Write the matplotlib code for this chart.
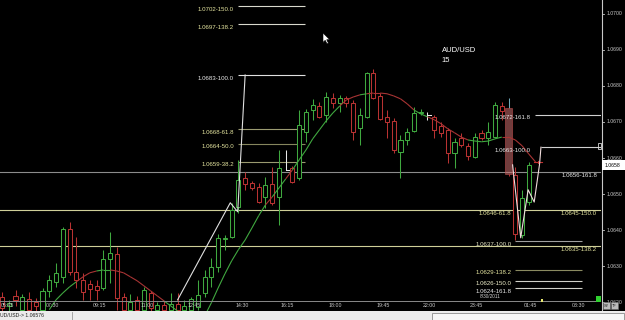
import numpy as np
import matplotlib
matplotlib.use("Agg")
import matplotlib.pyplot as plt
from matplotlib.patches import Rectangle, Polygon
from matplotlib.collections import LineCollection

plt.rcParams['font.family'] = ['Liberation Sans', 'DejaVu Sans']

# ---------------- data ----------------
symbol = "AUD/USD"
period = "15"
status_text = "UD/USD-> 1.06576"
date_text = "8/30/2011"
last_price = 1.0658

opens = [
    1.06215, 1.06190, 1.06218, 1.06179, 1.06210, 1.06201, 1.06179, 1.06232, 1.06257, 1.06271,
    1.06404, 1.06285, 1.06262, 1.06251, 1.06246, 1.06240, 1.06321, 1.06334, 1.06215, 1.06179,
    1.06207, 1.06179, 1.06226, 1.06179, 1.06193, 1.06179, 1.06196, 1.06179, 1.06179, 1.06188,
    1.06226, 1.06271, 1.06298, 1.06375, 1.06381, 1.06465, 1.06545, 1.06531, 1.06520, 1.06492,
    1.06528, 1.06492, 1.06567, 1.06573, 1.06545, 1.06672, 1.06733, 1.06744, 1.06720, 1.06767,
    1.06753, 1.06767, 1.06753, 1.06683, 1.06714, 1.06836, 1.06772, 1.06714, 1.06703, 1.06617,
    1.06650, 1.06675, 1.06726, 1.06720, 1.06714, 1.06689, 1.06678, 1.06614, 1.06656, 1.06634,
    1.06603, 1.06670, 1.06656, 1.06658, 1.06744, 1.06739, 1.06553, 1.06387, 1.06478]
highs = [
    1.06229, 1.06207, 1.06235, 1.06224, 1.06229, 1.06213, 1.06240, 1.06276, 1.06310, 1.06409,
    1.06423, 1.06381, 1.06282, 1.06262, 1.06262, 1.06346, 1.06395, 1.06354, 1.06226, 1.06224,
    1.06218, 1.06243, 1.06232, 1.06201, 1.06204, 1.06226, 1.06226, 1.06207, 1.06215, 1.06262,
    1.06290, 1.06323, 1.06390, 1.06387, 1.06476, 1.06595, 1.06562, 1.06537, 1.06531, 1.06548,
    1.06575, 1.06622, 1.06622, 1.06578, 1.06733, 1.06736, 1.06764, 1.06755, 1.06783, 1.06780,
    1.06775, 1.06772, 1.06761, 1.06739, 1.06839, 1.06847, 1.06780, 1.06733, 1.06711, 1.06664,
    1.06683, 1.06742, 1.06736, 1.06728, 1.06720, 1.06700, 1.06683, 1.06656, 1.06670, 1.06642,
    1.06670, 1.06678, 1.06700, 1.06755, 1.06755, 1.06767, 1.06575, 1.06512, 1.06589]
lows = [
    1.06170, 1.06170, 1.06190, 1.06170, 1.06170, 1.06170, 1.06170, 1.06215, 1.06243, 1.06254,
    1.06276, 1.06240, 1.06207, 1.06207, 1.06207, 1.06235, 1.06254, 1.06179, 1.06170, 1.06170,
    1.06170, 1.06170, 1.06170, 1.06170, 1.06170, 1.06170, 1.06170, 1.06170, 1.06170, 1.06179,
    1.06215, 1.06243, 1.06285, 1.06346, 1.06379, 1.06448, 1.06512, 1.06512, 1.06476, 1.06462,
    1.06470, 1.06415, 1.06567, 1.06531, 1.06539, 1.06645, 1.06706, 1.06711, 1.06700, 1.06739,
    1.06728, 1.06742, 1.06650, 1.06636, 1.06711, 1.06764, 1.06706, 1.06656, 1.06614, 1.06545,
    1.06636, 1.06672, 1.06720, 1.06706, 1.06656, 1.06658, 1.06587, 1.06573, 1.06631, 1.06595,
    1.06600, 1.06650, 1.06636, 1.06656, 1.06706, 1.06551, 1.06373, 1.06379, 1.06470]
closes = [
    1.06185, 1.06199, 1.06207, 1.06215, 1.06179, 1.06190, 1.06232, 1.06262, 1.06282, 1.06404,
    1.06285, 1.06262, 1.06229, 1.06237, 1.06235, 1.06321, 1.06337, 1.06213, 1.06179, 1.06201,
    1.06179, 1.06235, 1.06185, 1.06193, 1.06179, 1.06196, 1.06179, 1.06190, 1.06210, 1.06221,
    1.06271, 1.06298, 1.06379, 1.06378, 1.06456, 1.06539, 1.06528, 1.06517, 1.06478, 1.06526,
    1.06476, 1.06573, 1.06567, 1.06534, 1.06692, 1.06728, 1.06747, 1.06714, 1.06769, 1.06753,
    1.06767, 1.06753, 1.06672, 1.06720, 1.06836, 1.06767, 1.06708, 1.06700, 1.06622, 1.06650,
    1.06672, 1.06725, 1.06728, 1.06720, 1.06678, 1.06670, 1.06614, 1.06645, 1.06636, 1.06606,
    1.06658, 1.06656, 1.06672, 1.06747, 1.06731, 1.06556, 1.06390, 1.06490, 1.06580]
highlight_bar = 75

nan = np.nan
ma = [
    nan, nan, nan, nan, nan, nan, nan, 1.06180, 1.06207, 1.06226,
    1.06243, 1.06257, 1.06271, 1.06282, 1.06287, 1.06290, 1.06290, 1.06287, 1.06282, 1.06271,
    1.06260, 1.06246, 1.06232, 1.06218, 1.06204, 1.06190, 1.06176, 1.06162, nan, nan,
    1.06162, 1.06199, 1.06240, 1.06279, 1.06315, 1.06346, 1.06373, 1.06406, 1.06440, 1.06470,
    1.06492, 1.06517, 1.06542, 1.06567, 1.06595, 1.06622, 1.06653, 1.06678, 1.06703, 1.06725,
    1.06744, 1.06761, 1.06769, 1.06775, 1.06778, 1.06780, 1.06780, 1.06778, 1.06772, 1.06764,
    1.06750, 1.06733, 1.06722, 1.06714, 1.06706, 1.06695, 1.06681, 1.06670, 1.06658, 1.06650,
    1.06647, 1.06645, 1.06647, 1.06653, 1.06658, 1.06658, 1.06650, 1.06634, 1.06611, 1.06589]

time_labels = ["05:45", "07:30", "09:15", "11:00", "12:45", "14:30", "16:15",
               "18:00", "19:45", "22:00", "23:45", "01:45", "03:30"]
time_label_bars = [0.75, 7.4, 14.5, 21.5, 28.4, 35.5, 42.3, 49.3, 56.4, 63.2, 70.3, 78.3, 85.4]

price_ticks = [1.0620, 1.0630, 1.0640, 1.0650, 1.0660, 1.0670, 1.0680, 1.0690, 1.0700]

# Fibonacci drawing (left)
fibL_levels = [1.0702, 1.0697, 1.0683, 1.0668, 1.0664, 1.0659]
fibL_ratios = ["150.0", "138.2", "100.0", "61.8", "50.0", "38.2"]
fibL_span = (34.9, 44.9)
# full-width levels
full_levels = [1.0656, 1.06455, 1.06355]
full_labels = ["1.0656-161.8", "1.0645-150.0", "1.0635-138.2"]
# Fibonacci drawing (right, lower)
fibR_levels = [1.06455, 1.0637, 1.0629, 1.0626, 1.0624]
fibR_ratios = ["61.8", "100.0", "138.2", "150.0", "161.8"]
fibR_span = (75.96, 85.9)
# Fibonacci drawing (right, upper)
fibU_levels = [1.0672, 1.0663]
fibU_ratios = ["161.8", "100.0"]
fibU_starts = [78.9, 79.8]

zigL_bars = [26.0, 33.8, 34.9, 36.0]
zigL_prices = [1.06207, 1.06476, 1.06451, 1.06830]
zigR_bars = [75.6, 76.8, 77.9, 78.8, 79.6, 79.8, 79.8]
zigR_prices = [1.06581, 1.06379, 1.06512, 1.06478, 1.06584, 1.06630, 1.06630]

# ---------------- figure ----------------
W, H = 625, 320
fig = plt.figure(figsize=(W / 100, H / 100), dpi=100, facecolor="black")

PLOT_RIGHT = 601
PLOT_BOTTOM = 311
y_top = 1.070377
y_bot = 1.061762
x_left = -0.296
x_right = 88.69

ax = fig.add_axes([0, (H - PLOT_BOTTOM) / H, PLOT_RIGHT / W, PLOT_BOTTOM / H])
ax.set_facecolor("black")
ax.set_xlim(x_left, x_right)
ax.set_ylim(y_bot, y_top)
ax.axis("off")

GREEN = "#3fa83f"
RED = "#b83232"
WHITE = "#e8e8e8"
YEL = "#e6e6a0"
lw = 0.75
bw = 0.6

n = len(opens)
for i in range(n):
    o, h, l, c = opens[i], highs[i], lows[i], closes[i]
    if o == c:
        col = WHITE
    elif c > o:
        col = GREEN
    else:
        col = RED
    top, bot = max(o, c), min(o, c)
    wick_top_col = "#70a8b8" if i == highlight_bar else col
    ax.plot([i, i], [top, h], color=wick_top_col, lw=lw, solid_capstyle="butt", zorder=3)
    ax.plot([i, i], [l, bot], color=col, lw=lw, solid_capstyle="butt", zorder=3)
    if o == c:
        ax.plot([i, i + 0.45], [o, o], color=col, lw=lw, zorder=3)
    else:
        if i == highlight_bar:
            ax.add_patch(Rectangle((i - 0.5, bot), 1.0, top - bot, facecolor="#d07070",
                                   alpha=0.55, edgecolor="#c05050", lw=lw, zorder=3))
        else:
            ax.add_patch(Rectangle((i - bw / 2, bot), bw, top - bot, facecolor="black",
                                   edgecolor=col, lw=lw, zorder=3))

# moving average, coloured by close vs average
segs, cols = [], []
for i in range(1, len(ma)):
    if np.isnan(ma[i - 1]) or np.isnan(ma[i]):
        continue
    segs.append([(i - 1, ma[i - 1]), (i, ma[i])])
    ref = closes[i] if i < n else closes[-1] - 1
    cols.append("#40a840" if ref >= ma[i] else "#a83434")
ax.add_collection(LineCollection(segs, colors=cols, linewidths=0.8, zorder=4))
ax.plot([len(ma) - 1.3, len(ma) - 0.1], [ma[-1], ma[-1]], color="#c03030", lw=0.8, zorder=4)
ax.plot([len(ma) - 0.7, len(ma) - 0.7], [ma[-1] - 0.00004, ma[-1] + 0.00004],
        color="#c03030", lw=0.8, zorder=4)

def label(x, y, txt, color, ha="right"):
    ax.annotate(txt, xy=(x, y), xytext=(0, -2.2), textcoords="offset points",
                ha=ha, va="center", fontsize=4.4, color=color, zorder=6)

# left fib
fibL_colors = ["#d8d8cc", "#d8d8cc", "#e0e0e0", "#9c9c72", "#86865e", "#9a9a70"]
fibL_text = [YEL, YEL, WHITE, YEL, YEL, YEL]
for lev, r, lc, tc in zip(fibL_levels, fibL_ratios, fibL_colors, fibL_text):
    ax.hlines(lev, fibL_span[0], fibL_span[1], colors=lc, lw=0.8, zorder=2)
    label(fibL_span[0] - 0.55, lev, f"{lev:.4f}-{r}", tc)

# full-width levels
full_colors = ["#8c8c8c", "#cfcf98", "#cfcf98"]
full_text = [WHITE, YEL, YEL]
for lev, t, lc, tc in zip(full_levels, full_labels, full_colors, full_text):
    ax.axhline(lev, color=lc, lw=0.8, zorder=2)
    label(88.1, lev, t, tc)

# right lower fib
fibR_colors = [None, "#a0a0a0", "#8a8a60", "#d0d0c8", "#d0d0c8"]
fibR_text = [YEL, "#e4e4c4", YEL, "#ececc8", WHITE]
for lev, r, lc, tc in zip(fibR_levels, fibR_ratios, fibR_colors, fibR_text):
    if lc is not None:
        ax.hlines(lev, fibR_span[0], fibR_span[1], colors=lc, lw=0.8, zorder=2)
    label(fibR_span[0] - 0.55, lev, f"{lev:.4f}-{r}", tc)

# right upper fib
for lev, r, x0 in zip(fibU_levels, fibU_ratios, fibU_starts):
    ax.hlines(lev, x0, x_right, colors="#d0d0d0", lw=0.8, zorder=2)
    label(78.3, lev, f"{lev:.4f}-{r}", WHITE)

# zigzag lines
ax.plot(zigL_bars, zigL_prices, color="#e0e0e0", lw=0.8, zorder=5)
ax.plot(zigR_bars, zigR_prices, color="#f0dcdc", lw=0.8, zorder=5)

# time axis
xt = ax.get_xaxis_transform()
ax.plot([x_left, x_right], [10 / PLOT_BOTTOM] * 2, transform=xt, color="#8a8a8a", lw=0.7, zorder=7)
for b, t in zip(time_label_bars, time_labels):
    ax.text(b, 5.5 / PLOT_BOTTOM, t, transform=xt, ha="center", va="center",
            fontsize=3.8, color="#c8c8c8", zorder=8, clip_on=False)
ax.text(72.3, 14 / PLOT_BOTTOM, date_text, transform=xt, ha="center", va="center",
        fontsize=3.4, color="#d0d0d0", zorder=8)

# symbol
ax.text(65.1, 1 - 51 / PLOT_BOTTOM, symbol, transform=xt, ha="left", va="center",
        fontsize=5.5, color="white")
ax.text(65.1, 1 - 60 / PLOT_BOTTOM, period, transform=xt, ha="left", va="center",
        fontsize=5.5, color="white")

# right price axis
ax2 = fig.add_axes([PLOT_RIGHT / W, (H - PLOT_BOTTOM) / H, (W - PLOT_RIGHT) / W, PLOT_BOTTOM / H])
ax2.set_facecolor("black")
ax2.set_xlim(0, W - PLOT_RIGHT)
ax2.set_ylim(y_bot, y_top)
ax2.axis("off")
ax2.axvline(0.5, color="#c8c8c8", lw=0.8)
for p in price_ticks:
    ax2.plot([0.5, 2.5], [p, p], color="#c8c8c8", lw=0.6)
    ax2.text(5.5, p, f"{p:.4f}", ha="left", va="center", fontsize=3.7, color="#c8c8c8")
bh = 10 / 36100
ax2.add_patch(Rectangle((1.2, last_price - bh / 2), 23, bh, facecolor="white", edgecolor="none", zorder=5))
ax2.text(3.5, last_price, f"{last_price:.4f}", ha="left", va="center", fontsize=3.7,
         color="black", zorder=6)

# decorations in screen pixels
deco = fig.add_axes([0, 0, 1, 1])
deco.set_xlim(0, W)
deco.set_ylim(H, 0)
deco.axis("off")
deco.patch.set_alpha(0)
deco.add_patch(Rectangle((0, 311), W, 9, facecolor="#ececec", edgecolor="none"))
deco.plot([71.5, 71.5], [311.5, 320], color="#9a9a9a", lw=0.6)
deco.add_patch(Rectangle((432, 312.5), 192, 8, facecolor="#f6f6f6", edgecolor="#8c8c8c", lw=0.6))
deco.text(0.5, 315.8, status_text, ha="left", va="center", fontsize=3.7, color="#202020")
# mouse cursor
deco.add_patch(Polygon([(323, 33), (323, 42.5), (325.2, 40.3), (327, 43.8), (328.4, 43.1),
                        (326.7, 39.7), (329.8, 39.7)], closed=True, facecolor="white",
                       edgecolor="black", lw=0.4))
# small widgets
deco.add_patch(Rectangle((595.5, 296), 5, 5.5, facecolor="#2fd02f", edgecolor="none"))
deco.add_patch(Rectangle((541, 299), 2, 3, facecolor="#e8e870", edgecolor="none"))
deco.add_patch(Rectangle((597.5, 143), 3, 6, facecolor="none", edgecolor="#d8d8d8", lw=0.6))
for x0, t in [(602.5, "SY"), (610.5, "TF")]:
    deco.add_patch(Rectangle((x0, 302), 7.5, 7, facecolor="#bcbcbc", edgecolor="#6c6c6c", lw=0.4))
    deco.text(x0 + 3.75, 305.6, t, ha="center", va="center", fontsize=2.8, color="#202020")

fig.savefig("out.png", dpi=100, facecolor="black")
